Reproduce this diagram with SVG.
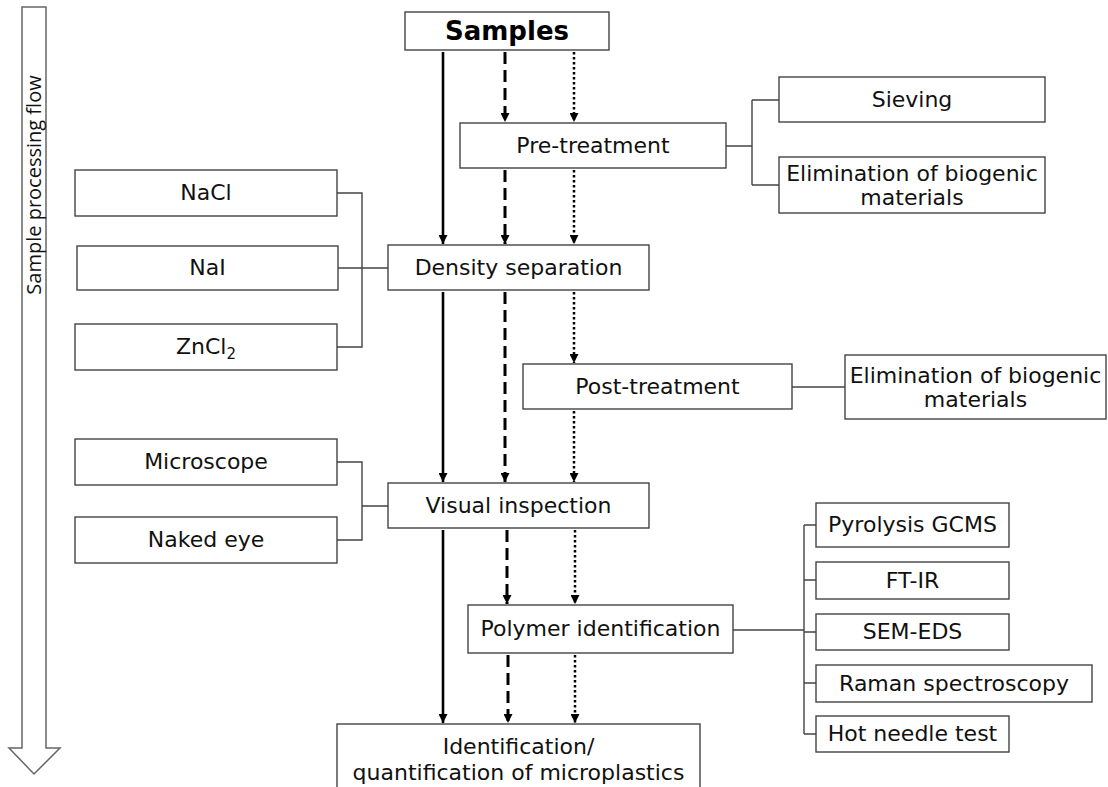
<svg xmlns="http://www.w3.org/2000/svg" width="1108" height="787" viewBox="0 0 1108 787">
<defs>
<style>
.box{fill:#fff;stroke:#444;stroke-width:1.4}
.t{font-family:"DejaVu Sans",Verdana,sans-serif;font-size:22px;fill:#111;text-anchor:middle}
.tb{font-family:"DejaVu Sans",Verdana,sans-serif;font-size:26px;font-weight:bold;fill:#000;text-anchor:middle}
.c{fill:none;stroke:#444;stroke-width:1.4}
.solid{stroke:#000;stroke-width:2.6;fill:none}
.dash{stroke:#000;stroke-width:3;fill:none;stroke-dasharray:12 6}
.dot{stroke:#000;stroke-width:2.5;fill:none;stroke-dasharray:2.5 2.5}
</style>
<marker id="ah" viewBox="0 0 10 10" refX="10" refY="5" markerWidth="9" markerHeight="9" markerUnits="userSpaceOnUse" orient="auto">
<path d="M0,0 L10,5 L0,10 Z" fill="#000"/>
</marker>
</defs>
<rect width="1108" height="787" fill="#fff"/>

<g id="flow-arrow">
<path d="M22,7 L46,7 L46,748 L60,748 L34,774 L9,748 L22,748 Z" fill="#fff" stroke="#666" stroke-width="1.5"/>
<text transform="translate(41,185) rotate(-90)" font-family="'Open Sans',sans-serif" font-size="20" fill="#111" text-anchor="middle">Sample processing flow</text>
</g>

<g id="connectors">
<line class="solid" x1="443" y1="52" x2="443" y2="244" marker-end="url(#ah)"/>
<line class="solid" x1="443" y1="292" x2="443" y2="482" marker-end="url(#ah)"/>
<line class="solid" x1="443" y1="530" x2="443" y2="723" marker-end="url(#ah)"/>
<line class="dash" x1="505" y1="52" x2="505" y2="122" marker-end="url(#ah)"/>
<line class="dash" x1="505" y1="170" x2="505" y2="244" marker-end="url(#ah)"/>
<line class="dash" x1="505" y1="292" x2="505" y2="482" marker-end="url(#ah)"/>
<line class="dash" x1="507" y1="530" x2="507" y2="604" marker-end="url(#ah)"/>
<line class="dash" x1="508" y1="655" x2="508" y2="723" marker-end="url(#ah)"/>
<line class="dot" x1="574" y1="52" x2="574" y2="122" marker-end="url(#ah)"/>
<line class="dot" x1="574" y1="170" x2="574" y2="244" marker-end="url(#ah)"/>
<line class="dot" x1="574" y1="292" x2="574" y2="363" marker-end="url(#ah)"/>
<line class="dot" x1="574" y1="411" x2="574" y2="482" marker-end="url(#ah)"/>
<line class="dot" x1="575" y1="530" x2="575" y2="604" marker-end="url(#ah)"/>
<line class="dot" x1="575" y1="655" x2="575" y2="723" marker-end="url(#ah)"/>
<path class="c" d="M726,146 H752 M752,100 V185 M752,100 H779 M752,185 H779"/>
<path class="c" d="M337,193 H362 V347 H337 M338,268 H388"/>
<path class="c" d="M337,462 H362 V540 H337 M362,506 H388"/>
<path class="c" d="M792,387 H845"/>
<path class="c" d="M733,630 H804 M804,525 V734 M804,525 H816 M804,580 H816 M804,632 H816 M804,683 H816 M804,734 H816"/>
</g>

<g id="samples"><rect class="box" x="405" y="12" width="204" height="38"/><text class="tb" x="507" y="40">Samples</text></g>
<g id="pre-treatment"><rect class="box" x="460" y="123" width="266" height="45"/><text class="t" x="593" y="153">Pre-treatment</text></g>
<g id="sieving"><rect class="box" x="779" y="77" width="266" height="45"/><text class="t" x="912" y="107">Sieving</text></g>
<g id="elimination-1"><rect class="box" x="779" y="157" width="266" height="56"/><text class="t" x="912" y="181">Elimination of biogenic</text><text class="t" x="912" y="205">materials</text></g>
<g id="density"><rect class="box" x="388" y="245" width="261" height="45"/><text class="t" x="518.5" y="275">Density separation</text></g>
<g id="nacl"><rect class="box" x="75" y="170" width="262" height="46"/><text class="t" x="206" y="200">NaCl</text></g>
<g id="nai"><rect class="box" x="77" y="246" width="261" height="44"/><text class="t" x="207.5" y="275">NaI</text></g>
<g id="zncl2"><rect class="box" x="75" y="324" width="262" height="46"/><text class="t" x="206" y="354">ZnCl<tspan font-size="15" dy="5">2</tspan></text></g>
<g id="post-treatment"><rect class="box" x="523" y="364" width="269" height="45"/><text class="t" x="657.5" y="394">Post-treatment</text></g>
<g id="elimination-2"><rect class="box" x="845" y="355" width="261" height="64"/><text class="t" x="975.5" y="383">Elimination of biogenic</text><text class="t" x="975.5" y="407">materials</text></g>
<g id="visual"><rect class="box" x="388" y="483" width="261" height="45"/><text class="t" x="518.5" y="513">Visual inspection</text></g>
<g id="microscope"><rect class="box" x="75" y="439" width="262" height="46"/><text class="t" x="206" y="469">Microscope</text></g>
<g id="naked-eye"><rect class="box" x="75" y="517" width="262" height="46"/><text class="t" x="206" y="547">Naked eye</text></g>
<g id="polymer"><rect class="box" x="468" y="605" width="265" height="48"/><text class="t" x="600.5" y="636">Polymer identification</text></g>
<g id="pyrolysis"><rect class="box" x="816" y="503" width="193" height="44"/><text class="t" x="912.5" y="532">Pyrolysis GCMS</text></g>
<g id="ftir"><rect class="box" x="816" y="562" width="193" height="37"/><text class="t" x="912.5" y="588">FT-IR</text></g>
<g id="sem-eds"><rect class="box" x="816" y="614" width="193" height="36"/><text class="t" x="912.5" y="639">SEM-EDS</text></g>
<g id="raman"><rect class="box" x="816" y="665" width="276" height="37"/><text class="t" x="954" y="691">Raman spectroscopy</text></g>
<g id="hot-needle"><rect class="box" x="816" y="716" width="193" height="36"/><text class="t" x="912.5" y="741">Hot needle test</text></g>
<g id="result"><rect class="box" x="337" y="724" width="363" height="70"/><text class="t" x="518.5" y="754">Identification/</text><text class="t" x="518.5" y="780">quantification of microplastics</text></g>
</svg>
